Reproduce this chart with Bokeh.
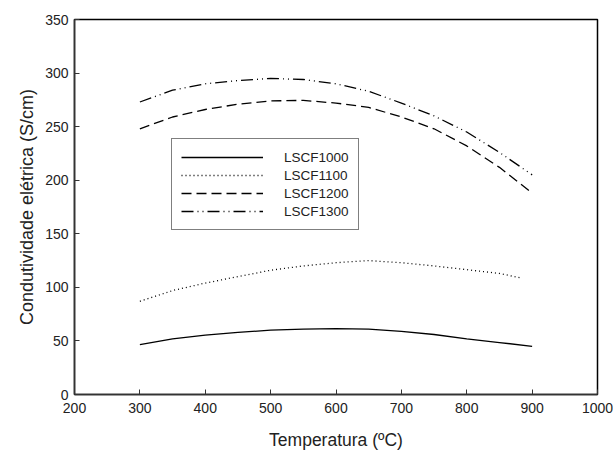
from bokeh.plotting import figure
from bokeh.models import Range1d, Legend, LegendItem, FixedTicker
from bokeh.embed import file_html
from bokeh.resources import INLINE

temps = [300, 350, 400, 450, 500, 550, 600, 650, 700, 750, 800, 850, 900]
temps_1100 = [300, 350, 400, 450, 500, 550, 600, 650, 700, 750, 800, 850, 885]
lscf1000 = [46.5, 52, 55.5, 58, 60, 61, 61.5, 61, 59, 56, 52, 48.5, 45]
lscf1100 = [87, 97, 104, 110, 116, 120, 123, 125, 123, 120, 116.5, 113, 108.5]
lscf1200 = [248, 259, 266, 271, 274, 274.5, 272, 268, 259, 248, 232, 212, 188]
lscf1300 = [273, 284, 290, 293, 295, 294, 290, 283, 272, 260, 245, 226, 205]

x_ticks = [200, 300, 400, 500, 600, 700, 800, 900, 1000]
y_ticks = [0, 50, 100, 150, 200, 250, 300, 350]

FONT = "Liberation Sans"

p = figure(width=613, height=452, output_backend="svg", toolbar_location=None,
           x_range=Range1d(200, 1000), y_range=Range1d(0, 350),
           min_border_left=74, min_border_right=16, min_border_top=19, min_border_bottom=57)
p.xgrid.visible = False
p.ygrid.visible = False
p.outline_line_color = "black"
p.outline_line_width = 1.5

for ax in (p.xaxis[0], p.yaxis[0]):
    ax.major_label_text_font = FONT
    ax.major_label_text_font_size = "14px"
    ax.major_label_text_color = "#222222"
    ax.axis_label_text_font = FONT
    ax.axis_label_text_font_style = "normal"
    ax.axis_label_text_color = "#222222"
    ax.axis_line_color = "#333333"
    ax.axis_line_width = 1.5
    ax.major_tick_in = 5
    ax.major_tick_out = 0
    ax.major_tick_line_color = "#333333"
    ax.minor_tick_line_color = None

p.xaxis[0].ticker = FixedTicker(ticks=x_ticks)
p.yaxis[0].ticker = FixedTicker(ticks=y_ticks)
p.xaxis.axis_label = "Temperatura (ºC)"
p.yaxis.axis_label = "Condutividade elétrica (S/cm)"
p.xaxis.axis_label_text_font_size = "17.5px"
p.yaxis.axis_label_text_font_size = "18px"
p.xaxis.major_label_standoff = 8
p.yaxis.major_label_standoff = 6
p.xaxis.axis_label_standoff = 14
p.yaxis.axis_label_standoff = 5

r1 = p.line(temps, lscf1000, line_color="black", line_width=1.3)
r2 = p.line(temps_1100, lscf1100, line_color="black", line_width=1.3, line_dash="1 3")
r3 = p.line(temps, lscf1200, line_color="black", line_width=1.3, line_dash="10 5")
r4 = p.line(temps, lscf1300, line_color="black", line_width=1.3, line_dash="12 4 1 4 1 4")

legend = Legend(items=[LegendItem(label="LSCF1000", renderers=[r1]),
                       LegendItem(label="LSCF1100", renderers=[r2]),
                       LegendItem(label="LSCF1200", renderers=[r3]),
                       LegendItem(label="LSCF1300", renderers=[r4])],
                location=(97, 164))
legend.label_text_font = FONT
legend.label_text_font_size = "13.5px"
legend.label_text_color = "#222222"
legend.glyph_width = 82
legend.glyph_height = 18
legend.label_height = 18
legend.label_standoff = 21
legend.spacing = 0
legend.padding = 9
legend.margin = 0
legend.border_line_color = "black"
legend.border_line_width = 1.2
legend.background_fill_alpha = 1
p.add_layout(legend)

open("out.html", "w").write(file_html(p, INLINE))
